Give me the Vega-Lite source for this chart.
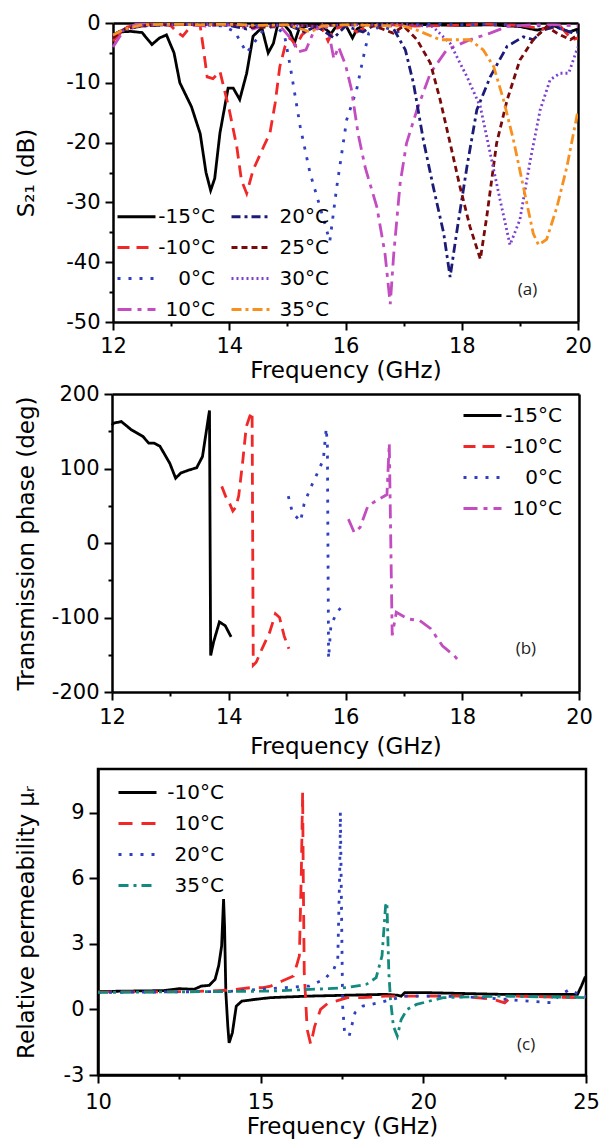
{
"$schema": "https://vega.github.io/schema/vega-lite/v6.json",
"padding": {"left": 13, "top": 12, "right": 5, "bottom": 0},
"config": {
  "font": "DejaVu Sans",
  "view": {"stroke": "black", "strokeWidth": 2.5},
  "axis": {"domainColor": "black", "domainWidth": 2.5, "tickColor": "black", "tickWidth": 2, "labelFontSize": 21, "labelColor": "black", "titleFontSize": 23, "titleFontWeight": "normal", "titleColor": "black", "grid": false, "labelFlush": false, "labelOverlap": false, "labelPadding": 8},
  "legend": {"labelFont": "DejaVu Sans", "labelColor": "black"}
},
"datasets": {
"a": [
{"f":12.0,"v":-2.0,"T":"-15°C"},{"f":12.1,"v":-1.5,"T":"-15°C"},{"f":12.3,"v":-1.4,"T":"-15°C"},{"f":12.5,"v":-1.6,"T":"-15°C"},{"f":12.67,"v":-3.6,"T":"-15°C"},{"f":12.8,"v":-2.5,"T":"-15°C"},{"f":12.92,"v":-2.0,"T":"-15°C"},{"f":13.05,"v":-5,"T":"-15°C"},{"f":13.15,"v":-10,"T":"-15°C"},{"f":13.24,"v":-11.8,"T":"-15°C"},{"f":13.35,"v":-14,"T":"-15°C"},{"f":13.5,"v":-18.5,"T":"-15°C"},{"f":13.6,"v":-25,"T":"-15°C"},{"f":13.68,"v":-28,"T":"-15°C"},{"f":13.75,"v":-26,"T":"-15°C"},{"f":13.84,"v":-18.4,"T":"-15°C"},{"f":13.98,"v":-10.9,"T":"-15°C"},{"f":14.07,"v":-10.9,"T":"-15°C"},{"f":14.18,"v":-12.8,"T":"-15°C"},{"f":14.3,"v":-8.4,"T":"-15°C"},{"f":14.41,"v":-2.2,"T":"-15°C"},{"f":14.56,"v":-0.8,"T":"-15°C"},{"f":14.67,"v":-5,"T":"-15°C"},{"f":14.76,"v":-3.4,"T":"-15°C"},{"f":14.84,"v":0,"T":"-15°C"},{"f":14.95,"v":-0.3,"T":"-15°C"},{"f":15.05,"v":-1.5,"T":"-15°C"},{"f":15.12,"v":-3.4,"T":"-15°C"},{"f":15.2,"v":-1,"T":"-15°C"},{"f":15.4,"v":-0.3,"T":"-15°C"},{"f":15.6,"v":-0.5,"T":"-15°C"},{"f":15.75,"v":-1.8,"T":"-15°C"},{"f":15.85,"v":-0.4,"T":"-15°C"},{"f":16.0,"v":-0.3,"T":"-15°C"},{"f":16.12,"v":-2.5,"T":"-15°C"},{"f":16.2,"v":-1.0,"T":"-15°C"},{"f":16.35,"v":-0.2,"T":"-15°C"},{"f":16.6,"v":-0.3,"T":"-15°C"},{"f":17.0,"v":-0.2,"T":"-15°C"},{"f":17.5,"v":-0.3,"T":"-15°C"},{"f":18.0,"v":-0.4,"T":"-15°C"},{"f":18.5,"v":-0.3,"T":"-15°C"},{"f":19.0,"v":-0.6,"T":"-15°C"},{"f":19.3,"v":-1.2,"T":"-15°C"},{"f":19.6,"v":-0.5,"T":"-15°C"},{"f":19.85,"v":-1.5,"T":"-15°C"},{"f":20.0,"v":-1.0,"T":"-15°C"},
{"f":12.0,"v":-3.0,"T":"-10°C"},{"f":12.1,"v":-2.0,"T":"-10°C"},{"f":12.2,"v":-0.8,"T":"-10°C"},{"f":12.4,"v":-0.3,"T":"-10°C"},{"f":12.6,"v":-0.3,"T":"-10°C"},{"f":12.8,"v":-0.1,"T":"-10°C"},{"f":13.0,"v":-0.5,"T":"-10°C"},{"f":13.1,"v":-1.5,"T":"-10°C"},{"f":13.2,"v":-2.2,"T":"-10°C"},{"f":13.3,"v":-1.0,"T":"-10°C"},{"f":13.4,"v":-0.3,"T":"-10°C"},{"f":13.5,"v":-0.5,"T":"-10°C"},{"f":13.55,"v":-3.9,"T":"-10°C"},{"f":13.62,"v":-9,"T":"-10°C"},{"f":13.72,"v":-9.3,"T":"-10°C"},{"f":13.84,"v":-8.1,"T":"-10°C"},{"f":14.0,"v":-14.5,"T":"-10°C"},{"f":14.13,"v":-20.7,"T":"-10°C"},{"f":14.21,"v":-26.3,"T":"-10°C"},{"f":14.3,"v":-28.5,"T":"-10°C"},{"f":14.41,"v":-24.6,"T":"-10°C"},{"f":14.59,"v":-20.7,"T":"-10°C"},{"f":14.7,"v":-18.4,"T":"-10°C"},{"f":14.79,"v":-13.4,"T":"-10°C"},{"f":14.87,"v":-7.3,"T":"-10°C"},{"f":14.96,"v":-3.9,"T":"-10°C"},{"f":15.05,"v":-2.5,"T":"-10°C"},{"f":15.15,"v":-3.8,"T":"-10°C"},{"f":15.25,"v":-2.0,"T":"-10°C"},{"f":15.4,"v":-0.8,"T":"-10°C"},{"f":15.6,"v":-1.0,"T":"-10°C"},{"f":15.7,"v":-3.0,"T":"-10°C"},{"f":15.8,"v":-1.0,"T":"-10°C"},{"f":16.0,"v":-0.5,"T":"-10°C"},{"f":16.2,"v":-1.5,"T":"-10°C"},{"f":16.4,"v":-0.5,"T":"-10°C"},{"f":16.8,"v":-0.3,"T":"-10°C"},{"f":17.2,"v":-0.5,"T":"-10°C"},{"f":17.8,"v":-0.4,"T":"-10°C"},{"f":18.4,"v":-0.2,"T":"-10°C"},{"f":19.0,"v":-0.4,"T":"-10°C"},{"f":19.4,"v":-1.0,"T":"-10°C"},{"f":19.7,"v":-0.6,"T":"-10°C"},{"f":19.9,"v":-2.8,"T":"-10°C"},{"f":20.0,"v":-2.5,"T":"-10°C"},
{"f":12.0,"v":-2.5,"T":"0°C"},{"f":12.1,"v":-1.5,"T":"0°C"},{"f":12.3,"v":-0.5,"T":"0°C"},{"f":12.6,"v":-0.3,"T":"0°C"},{"f":13.0,"v":-0.2,"T":"0°C"},{"f":13.5,"v":-0.3,"T":"0°C"},{"f":13.9,"v":-0.5,"T":"0°C"},{"f":14.1,"v":-1.5,"T":"0°C"},{"f":14.3,"v":-5,"T":"0°C"},{"f":14.45,"v":-3,"T":"0°C"},{"f":14.6,"v":-1.0,"T":"0°C"},{"f":14.8,"v":-0.5,"T":"0°C"},{"f":14.95,"v":-2,"T":"0°C"},{"f":15.05,"v":-7.3,"T":"0°C"},{"f":15.22,"v":-17.3,"T":"0°C"},{"f":15.39,"v":-25.1,"T":"0°C"},{"f":15.56,"v":-30.7,"T":"0°C"},{"f":15.73,"v":-36.5,"T":"0°C"},{"f":15.85,"v":-27.4,"T":"0°C"},{"f":16.02,"v":-16.2,"T":"0°C"},{"f":16.19,"v":-11.2,"T":"0°C"},{"f":16.31,"v":-5.6,"T":"0°C"},{"f":16.4,"v":-1.7,"T":"0°C"},{"f":16.6,"v":-0.5,"T":"0°C"},{"f":16.9,"v":-1.5,"T":"0°C"},{"f":17.1,"v":-0.3,"T":"0°C"},{"f":17.5,"v":-0.2,"T":"0°C"},{"f":18.0,"v":-0.3,"T":"0°C"},{"f":18.5,"v":-0.2,"T":"0°C"},{"f":19.0,"v":-0.4,"T":"0°C"},{"f":19.5,"v":-0.5,"T":"0°C"},{"f":19.8,"v":-1.2,"T":"0°C"},{"f":20.0,"v":-2.0,"T":"0°C"},
{"f":12.0,"v":-4.0,"T":"10°C"},{"f":12.1,"v":-2.5,"T":"10°C"},{"f":12.2,"v":-1.0,"T":"10°C"},{"f":12.4,"v":-0.2,"T":"10°C"},{"f":12.8,"v":-0.3,"T":"10°C"},{"f":13.2,"v":-0.2,"T":"10°C"},{"f":13.6,"v":-0.5,"T":"10°C"},{"f":14.0,"v":-0.3,"T":"10°C"},{"f":14.4,"v":-1.0,"T":"10°C"},{"f":14.6,"v":-0.5,"T":"10°C"},{"f":14.9,"v":-0.8,"T":"10°C"},{"f":15.05,"v":-2.5,"T":"10°C"},{"f":15.2,"v":-4.8,"T":"10°C"},{"f":15.32,"v":-4.5,"T":"10°C"},{"f":15.45,"v":-1.5,"T":"10°C"},{"f":15.6,"v":-0.3,"T":"10°C"},{"f":15.7,"v":-1.0,"T":"10°C"},{"f":15.8,"v":-6.0,"T":"10°C"},{"f":15.88,"v":-4.0,"T":"10°C"},{"f":16.0,"v":-7.0,"T":"10°C"},{"f":16.1,"v":-11,"T":"10°C"},{"f":16.22,"v":-18.7,"T":"10°C"},{"f":16.34,"v":-24.2,"T":"10°C"},{"f":16.54,"v":-30.8,"T":"10°C"},{"f":16.68,"v":-38.6,"T":"10°C"},{"f":16.77,"v":-47,"T":"10°C"},{"f":16.83,"v":-38.6,"T":"10°C"},{"f":16.94,"v":-26.8,"T":"10°C"},{"f":17.05,"v":-20.1,"T":"10°C"},{"f":17.23,"v":-14.5,"T":"10°C"},{"f":17.46,"v":-8.4,"T":"10°C"},{"f":17.74,"v":-4.5,"T":"10°C"},{"f":18.14,"v":-2.8,"T":"10°C"},{"f":18.49,"v":-1.7,"T":"10°C"},{"f":18.78,"v":-0.6,"T":"10°C"},{"f":19.2,"v":-0.3,"T":"10°C"},{"f":19.6,"v":-0.3,"T":"10°C"},{"f":20.0,"v":-0.5,"T":"10°C"},
{"f":12.0,"v":-2.0,"T":"20°C"},{"f":12.2,"v":-1.0,"T":"20°C"},{"f":12.5,"v":-0.5,"T":"20°C"},{"f":13.0,"v":-0.3,"T":"20°C"},{"f":13.5,"v":-0.2,"T":"20°C"},{"f":14.0,"v":-0.4,"T":"20°C"},{"f":14.3,"v":-1.0,"T":"20°C"},{"f":14.5,"v":-0.5,"T":"20°C"},{"f":15.0,"v":-0.3,"T":"20°C"},{"f":15.3,"v":-1.5,"T":"20°C"},{"f":15.5,"v":-0.5,"T":"20°C"},{"f":15.8,"v":-2.5,"T":"20°C"},{"f":16.0,"v":-0.5,"T":"20°C"},{"f":16.3,"v":-1.5,"T":"20°C"},{"f":16.5,"v":-0.3,"T":"20°C"},{"f":16.8,"v":-0.5,"T":"20°C"},{"f":17.03,"v":-4.5,"T":"20°C"},{"f":17.17,"v":-10.1,"T":"20°C"},{"f":17.34,"v":-19.6,"T":"20°C"},{"f":17.51,"v":-27.4,"T":"20°C"},{"f":17.69,"v":-35.2,"T":"20°C"},{"f":17.8,"v":-42.5,"T":"20°C"},{"f":17.91,"v":-35.2,"T":"20°C"},{"f":18.09,"v":-24,"T":"20°C"},{"f":18.26,"v":-14.5,"T":"20°C"},{"f":18.49,"v":-9,"T":"20°C"},{"f":18.78,"v":-3.9,"T":"20°C"},{"f":19.06,"v":-2.3,"T":"20°C"},{"f":19.23,"v":-2.8,"T":"20°C"},{"f":19.4,"v":-1.2,"T":"20°C"},{"f":19.6,"v":-0.6,"T":"20°C"},{"f":19.92,"v":-1.7,"T":"20°C"},{"f":20.0,"v":-1.5,"T":"20°C"},
{"f":12.0,"v":-2.5,"T":"25°C"},{"f":12.2,"v":-1.0,"T":"25°C"},{"f":12.5,"v":-0.5,"T":"25°C"},{"f":13.0,"v":-0.2,"T":"25°C"},{"f":13.5,"v":-0.3,"T":"25°C"},{"f":14.0,"v":-0.2,"T":"25°C"},{"f":14.5,"v":-0.8,"T":"25°C"},{"f":15.0,"v":-0.3,"T":"25°C"},{"f":15.5,"v":-0.5,"T":"25°C"},{"f":16.0,"v":-0.3,"T":"25°C"},{"f":16.5,"v":-0.5,"T":"25°C"},{"f":16.82,"v":-1.7,"T":"25°C"},{"f":17.0,"v":-0.5,"T":"25°C"},{"f":17.23,"v":-2.8,"T":"25°C"},{"f":17.46,"v":-6.7,"T":"25°C"},{"f":17.63,"v":-12.9,"T":"25°C"},{"f":17.8,"v":-20.1,"T":"25°C"},{"f":17.97,"v":-27.4,"T":"25°C"},{"f":18.14,"v":-34,"T":"25°C"},{"f":18.32,"v":-39.5,"T":"25°C"},{"f":18.43,"v":-32.4,"T":"25°C"},{"f":18.6,"v":-20.1,"T":"25°C"},{"f":18.78,"v":-12.9,"T":"25°C"},{"f":19.0,"v":-6.2,"T":"25°C"},{"f":19.23,"v":-2.8,"T":"25°C"},{"f":19.46,"v":-0.6,"T":"25°C"},{"f":19.64,"v":-1.7,"T":"25°C"},{"f":19.87,"v":-2.8,"T":"25°C"},{"f":20.0,"v":-2.0,"T":"25°C"},
{"f":12.0,"v":-2.0,"T":"30°C"},{"f":12.2,"v":-1.2,"T":"30°C"},{"f":12.5,"v":-0.4,"T":"30°C"},{"f":13.0,"v":-0.3,"T":"30°C"},{"f":13.5,"v":-0.2,"T":"30°C"},{"f":14.0,"v":-0.3,"T":"30°C"},{"f":14.5,"v":-0.5,"T":"30°C"},{"f":15.0,"v":-0.3,"T":"30°C"},{"f":15.5,"v":-0.6,"T":"30°C"},{"f":16.0,"v":-0.3,"T":"30°C"},{"f":16.5,"v":-0.3,"T":"30°C"},{"f":17.0,"v":-0.2,"T":"30°C"},{"f":17.5,"v":-0.6,"T":"30°C"},{"f":17.8,"v":-3.4,"T":"30°C"},{"f":18.09,"v":-9,"T":"30°C"},{"f":18.32,"v":-14,"T":"30°C"},{"f":18.49,"v":-21.8,"T":"30°C"},{"f":18.66,"v":-29.6,"T":"30°C"},{"f":18.83,"v":-37.1,"T":"30°C"},{"f":19.0,"v":-32.9,"T":"30°C"},{"f":19.18,"v":-22.9,"T":"30°C"},{"f":19.35,"v":-14.5,"T":"30°C"},{"f":19.52,"v":-9.5,"T":"30°C"},{"f":19.69,"v":-8.4,"T":"30°C"},{"f":19.84,"v":-8.4,"T":"30°C"},{"f":19.98,"v":-4.5,"T":"30°C"},{"f":20.0,"v":-4.0,"T":"30°C"},
{"f":12.0,"v":-2.0,"T":"35°C"},{"f":12.2,"v":-1.0,"T":"35°C"},{"f":12.5,"v":-0.3,"T":"35°C"},{"f":13.0,"v":-0.2,"T":"35°C"},{"f":13.5,"v":-0.3,"T":"35°C"},{"f":14.0,"v":-0.2,"T":"35°C"},{"f":14.5,"v":-0.4,"T":"35°C"},{"f":15.0,"v":-0.3,"T":"35°C"},{"f":15.4,"v":-1.5,"T":"35°C"},{"f":15.6,"v":-0.5,"T":"35°C"},{"f":16.0,"v":-0.3,"T":"35°C"},{"f":16.5,"v":-0.4,"T":"35°C"},{"f":17.0,"v":-0.5,"T":"35°C"},{"f":17.23,"v":-1.2,"T":"35°C"},{"f":17.63,"v":-2.8,"T":"35°C"},{"f":18.14,"v":-2.8,"T":"35°C"},{"f":18.37,"v":-4.5,"T":"35°C"},{"f":18.55,"v":-7.3,"T":"35°C"},{"f":18.72,"v":-12.9,"T":"35°C"},{"f":18.89,"v":-19.6,"T":"35°C"},{"f":19.06,"v":-27.4,"T":"35°C"},{"f":19.23,"v":-35.2,"T":"35°C"},{"f":19.32,"v":-37.1,"T":"35°C"},{"f":19.46,"v":-36.2,"T":"35°C"},{"f":19.64,"v":-30.7,"T":"35°C"},{"f":19.81,"v":-24,"T":"35°C"},{"f":19.98,"v":-15.6,"T":"35°C"},{"f":20.0,"v":-14.5,"T":"35°C"}
],
"b": [
{"f":12.0,"v":158,"T":"-15°C"},{"f":12.03,"v":161,"T":"-15°C"},{"f":12.16,"v":163,"T":"-15°C"},{"f":12.33,"v":152,"T":"-15°C"},{"f":12.53,"v":143,"T":"-15°C"},{"f":12.63,"v":134,"T":"-15°C"},{"f":12.72,"v":134,"T":"-15°C"},{"f":12.82,"v":130,"T":"-15°C"},{"f":12.99,"v":107,"T":"-15°C"},{"f":13.09,"v":87,"T":"-15°C"},{"f":13.18,"v":94,"T":"-15°C"},{"f":13.32,"v":98,"T":"-15°C"},{"f":13.45,"v":101,"T":"-15°C"},{"f":13.55,"v":116,"T":"-15°C"},{"f":13.61,"v":147,"T":"-15°C"},{"f":13.67,"v":178,"T":"-15°C"},{"f":13.69,"v":-151,"T":"-15°C"},{"f":13.74,"v":-133,"T":"-15°C"},{"f":13.84,"v":-106,"T":"-15°C"},{"f":13.94,"v":-111,"T":"-15°C"},{"f":14.04,"v":-126,"T":"-15°C"},
{"f":13.88,"v":76,"T":"-10°C"},{"f":13.95,"v":62,"T":"-10°C"},{"f":14.01,"v":54,"T":"-10°C"},{"f":14.07,"v":43,"T":"-10°C"},{"f":14.12,"v":48,"T":"-10°C"},{"f":14.17,"v":63,"T":"-10°C"},{"f":14.24,"v":110,"T":"-10°C"},{"f":14.3,"v":156,"T":"-10°C"},{"f":14.36,"v":170,"T":"-10°C"},{"f":14.4,"v":176,"T":"-10°C"},{"f":14.42,"v":-164,"T":"-10°C"},{"f":14.47,"v":-160,"T":"-10°C"},{"f":14.57,"v":-142,"T":"-10°C"},{"f":14.7,"v":-120,"T":"-10°C"},{"f":14.8,"v":-95,"T":"-10°C"},{"f":14.87,"v":-100,"T":"-10°C"},{"f":14.95,"v":-125,"T":"-10°C"},{"f":15.03,"v":-142,"T":"-10°C"},
{"f":15.02,"v":63,"T":"0°C"},{"f":15.09,"v":41,"T":"0°C"},{"f":15.23,"v":29,"T":"0°C"},{"f":15.29,"v":52,"T":"0°C"},{"f":15.39,"v":72,"T":"0°C"},{"f":15.52,"v":94,"T":"0°C"},{"f":15.62,"v":112,"T":"0°C"},{"f":15.67,"v":154,"T":"0°C"},{"f":15.69,"v":130,"T":"0°C"},{"f":15.71,"v":-155,"T":"0°C"},{"f":15.75,"v":-111,"T":"0°C"},{"f":15.85,"v":-93,"T":"0°C"},{"f":16.0,"v":-80,"T":"0°C"},
{"f":16.05,"v":32,"T":"10°C"},{"f":16.15,"v":14,"T":"10°C"},{"f":16.25,"v":21,"T":"10°C"},{"f":16.38,"v":49,"T":"10°C"},{"f":16.51,"v":56,"T":"10°C"},{"f":16.71,"v":65,"T":"10°C"},{"f":16.75,"v":134,"T":"10°C"},{"f":16.8,"v":-124,"T":"10°C"},{"f":16.87,"v":-93,"T":"10°C"},{"f":17.07,"v":-102,"T":"10°C"},{"f":17.27,"v":-104,"T":"10°C"},{"f":17.46,"v":-115,"T":"10°C"},{"f":17.66,"v":-138,"T":"10°C"},{"f":17.86,"v":-151,"T":"10°C"},{"f":17.96,"v":-160,"T":"10°C"}
],
"c": [
{"f":10,"v":0.82,"T":"-10°C"},{"f":11,"v":0.84,"T":"-10°C"},{"f":12,"v":0.86,"T":"-10°C"},{"f":12.5,"v":0.95,"T":"-10°C"},{"f":12.95,"v":0.92,"T":"-10°C"},{"f":13.18,"v":1.07,"T":"-10°C"},{"f":13.42,"v":1.1,"T":"-10°C"},{"f":13.6,"v":1.38,"T":"-10°C"},{"f":13.71,"v":2.0,"T":"-10°C"},{"f":13.8,"v":2.9,"T":"-10°C"},{"f":13.86,"v":5.05,"T":"-10°C"},{"f":13.89,"v":3.8,"T":"-10°C"},{"f":13.93,"v":0.77,"T":"-10°C"},{"f":13.99,"v":-0.77,"T":"-10°C"},{"f":14.03,"v":-1.53,"T":"-10°C"},{"f":14.13,"v":-1.07,"T":"-10°C"},{"f":14.25,"v":0.15,"T":"-10°C"},{"f":14.42,"v":0.38,"T":"-10°C"},{"f":14.83,"v":0.46,"T":"-10°C"},{"f":15.31,"v":0.54,"T":"-10°C"},{"f":16.49,"v":0.61,"T":"-10°C"},{"f":18.84,"v":0.69,"T":"-10°C"},{"f":19.2,"v":0.65,"T":"-10°C"},{"f":19.32,"v":0.61,"T":"-10°C"},{"f":19.43,"v":0.77,"T":"-10°C"},{"f":20.02,"v":0.77,"T":"-10°C"},{"f":22.38,"v":0.69,"T":"-10°C"},{"f":24.74,"v":0.69,"T":"-10°C"},{"f":24.86,"v":1.07,"T":"-10°C"},{"f":24.98,"v":1.5,"T":"-10°C"},
{"f":10,"v":0.8,"T":"10°C"},{"f":12,"v":0.8,"T":"10°C"},{"f":13,"v":0.82,"T":"10°C"},{"f":14,"v":0.88,"T":"10°C"},{"f":14.72,"v":1.0,"T":"10°C"},{"f":15.07,"v":1.0,"T":"10°C"},{"f":15.31,"v":1.07,"T":"10°C"},{"f":15.66,"v":1.3,"T":"10°C"},{"f":16.01,"v":1.53,"T":"10°C"},{"f":16.19,"v":2.45,"T":"10°C"},{"f":16.25,"v":6.28,"T":"10°C"},{"f":16.29,"v":9.95,"T":"10°C"},{"f":16.31,"v":5.97,"T":"10°C"},{"f":16.34,"v":1.68,"T":"10°C"},{"f":16.43,"v":-0.92,"T":"10°C"},{"f":16.54,"v":-1.6,"T":"10°C"},{"f":16.66,"v":-0.77,"T":"10°C"},{"f":16.84,"v":0,"T":"10°C"},{"f":17.08,"v":0.3,"T":"10°C"},{"f":17.31,"v":0.38,"T":"10°C"},{"f":17.67,"v":0.54,"T":"10°C"},{"f":18.14,"v":0.54,"T":"10°C"},{"f":18.84,"v":0.61,"T":"10°C"},{"f":21.2,"v":0.61,"T":"10°C"},{"f":22.15,"v":0.46,"T":"10°C"},{"f":22.5,"v":0.3,"T":"10°C"},{"f":22.73,"v":0.61,"T":"10°C"},{"f":24.74,"v":0.54,"T":"10°C"},{"f":25,"v":0.58,"T":"10°C"},
{"f":10,"v":0.78,"T":"20°C"},{"f":12,"v":0.8,"T":"20°C"},{"f":14,"v":0.82,"T":"20°C"},{"f":15.78,"v":1.0,"T":"20°C"},{"f":16.49,"v":1.07,"T":"20°C"},{"f":16.96,"v":1.38,"T":"20°C"},{"f":17.25,"v":1.84,"T":"20°C"},{"f":17.37,"v":2.3,"T":"20°C"},{"f":17.43,"v":6.28,"T":"20°C"},{"f":17.45,"v":9.04,"T":"20°C"},{"f":17.49,"v":4.0,"T":"20°C"},{"f":17.52,"v":0.15,"T":"20°C"},{"f":17.58,"v":-1.07,"T":"20°C"},{"f":17.72,"v":-1.22,"T":"20°C"},{"f":17.9,"v":-0.15,"T":"20°C"},{"f":18.14,"v":0.15,"T":"20°C"},{"f":18.61,"v":0.3,"T":"20°C"},{"f":19.43,"v":0.61,"T":"20°C"},{"f":20.6,"v":0.61,"T":"20°C"},{"f":21.8,"v":0.54,"T":"20°C"},{"f":23.97,"v":0.3,"T":"20°C"},{"f":24.15,"v":0.61,"T":"20°C"},{"f":24.5,"v":0.92,"T":"20°C"},{"f":24.86,"v":0.61,"T":"20°C"},{"f":25,"v":0.6,"T":"20°C"},
{"f":10,"v":0.78,"T":"35°C"},{"f":12,"v":0.8,"T":"35°C"},{"f":14,"v":0.82,"T":"35°C"},{"f":15.31,"v":0.84,"T":"35°C"},{"f":17.08,"v":0.95,"T":"35°C"},{"f":17.67,"v":1.0,"T":"35°C"},{"f":18.25,"v":1.15,"T":"35°C"},{"f":18.55,"v":1.45,"T":"35°C"},{"f":18.73,"v":2.45,"T":"35°C"},{"f":18.84,"v":4.75,"T":"35°C"},{"f":18.88,"v":4.9,"T":"35°C"},{"f":18.94,"v":1.68,"T":"35°C"},{"f":18.99,"v":0.46,"T":"35°C"},{"f":19.08,"v":-0.77,"T":"35°C"},{"f":19.2,"v":-1.22,"T":"35°C"},{"f":19.32,"v":-0.46,"T":"35°C"},{"f":19.5,"v":0,"T":"35°C"},{"f":19.79,"v":0.23,"T":"35°C"},{"f":20.61,"v":0.54,"T":"35°C"},{"f":22.38,"v":0.61,"T":"35°C"},{"f":25,"v":0.54,"T":"35°C"}
]
},
"columns": 1,
"align": "none",
"spacing": 9,
"resolve": {"scale": {"color": "independent", "strokeDash": "independent"}, "legend": {"color": "independent", "strokeDash": "independent"}},
"concat": [
{
"columns": 1,
"align": "none",
"spacing": 1,
"resolve": {"scale": {"color": "independent", "strokeDash": "independent"}, "legend": {"color": "independent", "strokeDash": "independent"}},
"concat": [
{
"width": 480, "height": 299,
"view": {"stroke": null},
"resolve": {"axis": {"x": "independent", "y": "independent"}},
"layer": [
{
"data": {"name": "a"},
"mark": {"type": "line", "strokeWidth": 2.8, "clip": true},
"encoding": {
"x": {"field": "f", "type": "quantitative", "scale": {"domain": [12, 20], "range": [15, 480], "nice": false, "zero": false},
 "axis": {"title": "Frequency (GHz)", "values": [12,13,14,15,16,17,18,19,20], "labelExpr": "datum.value % 2 == 0 ? toString(datum.value) : ''", "tickSize": {"condition": {"test": "datum.value % 2 != 0", "value": 4}, "value": 8}, "labelPadding": 5, "titlePadding": 3}},
"y": {"field": "v", "type": "quantitative", "scale": {"domain": [-50, 0], "nice": false, "zero": false},
 "axis": {"title": "S₂₁ (dB)", "offset": -15, "values": [-50,-45,-40,-35,-30,-25,-20,-15,-10,-5,0], "labelExpr": "datum.value % 10 == 0 ? toString(datum.value) : ''", "tickSize": {"condition": {"test": "datum.value % 10 != 0", "value": 4}, "value": 8}, "labelPadding": 5, "minExtent": 46, "maxExtent": 46, "titlePadding": 29}},
"color": {"field": "T", "type": "nominal",
 "scale": {"domain": ["-15°C","-10°C","0°C","10°C","20°C","25°C","30°C","35°C"], "range": ["#000000","#f02828","#2f3fbf","#c24cc0","#1c1c78","#7a0a0a","#7d3fd0","#f7901e"]},
 "legend": {"orient": "none", "legendX": 18, "legendY": 173, "columns": 2, "title": null, "symbolType": "stroke", "symbolSize": 1444, "symbolStrokeWidth": 3, "labelFontSize": 20, "labelAlign": "right", "labelOffset": 58, "rowPadding": -12, "columnPadding": 10, "padding": 0}},
"strokeDash": {"field": "T", "type": "nominal",
 "scale": {"domain": ["-15°C","-10°C","0°C","10°C","20°C","25°C","30°C","35°C"], "range": [[1,0],[12,7],[3,8],[14,6,4,6],[9,4,3,4],[6,4],[2,3],[10,4,3,4]]},
 "legend": {"orient": "none", "legendX": 18, "legendY": 173, "columns": 2, "title": null, "symbolType": "stroke", "symbolSize": 1444, "symbolStrokeWidth": 3, "labelFontSize": 20, "labelAlign": "right", "labelOffset": 58, "rowPadding": -12, "columnPadding": 10, "padding": 0}}
}
},
{
"data": {"values": [{"f": 19.13, "v": -44.6, "t": "(a)"}]},
"mark": {"type": "text", "font": "Open Sans", "fontSize": 17, "color": "#222222"},
"encoding": {"x": {"field": "f", "type": "quantitative", "axis": {"orient": "top", "labels": false, "ticks": false, "title": null, "domainWidth": 2.5}}, "y": {"field": "v", "type": "quantitative", "axis": {"orient": "right", "labels": false, "ticks": false, "title": null, "domainWidth": 2.5}}, "text": {"field": "t"}}
}
]
},
{
"width": 481, "height": 298,
"view": {"stroke": null},
"resolve": {"axis": {"x": "independent", "y": "independent"}},
"layer": [
{
"data": {"name": "b"},
"mark": {"type": "line", "strokeWidth": 2.8, "clip": true},
"encoding": {
"x": {"field": "f", "type": "quantitative", "scale": {"domain": [12, 20], "range": [14, 481], "nice": false, "zero": false},
 "axis": {"title": "Frequency (GHz)", "values": [12,13,14,15,16,17,18,19,20], "labelExpr": "datum.value % 2 == 0 ? toString(datum.value) : ''", "tickSize": {"condition": {"test": "datum.value % 2 != 0", "value": 4}, "value": 8}, "labelPadding": 6, "titlePadding": 8}},
"y": {"field": "v", "type": "quantitative", "scale": {"domain": [-200, 200], "nice": false, "zero": false},
 "axis": {"title": "Transmission phase (deg)", "offset": -14, "values": [-200,-150,-100,-50,0,50,100,150,200], "labelExpr": "datum.value % 100 == 0 ? toString(datum.value) : ''", "tickSize": {"condition": {"test": "datum.value % 100 != 0", "value": 4}, "value": 8}, "labelPadding": 5, "minExtent": 60, "maxExtent": 60, "titlePadding": 14}},
"color": {"field": "T", "type": "nominal",
 "scale": {"domain": ["-15°C","-10°C","0°C","10°C"], "range": ["#000000","#f02828","#2f3fbf","#c24cc0"]},
 "legend": {"orient": "none", "legendX": 364, "legendY": 1, "columns": 1, "title": null, "symbolType": "stroke", "symbolSize": 1444, "symbolStrokeWidth": 3, "labelFontSize": 20, "labelAlign": "right", "labelOffset": 59, "rowPadding": -11, "padding": 0}},
"strokeDash": {"field": "T", "type": "nominal",
 "scale": {"domain": ["-15°C","-10°C","0°C","10°C"], "range": [[1,0],[12,7],[3,8],[14,6,4,6]]},
 "legend": {"orient": "none", "legendX": 364, "legendY": 1, "columns": 1, "title": null, "symbolType": "stroke", "symbolSize": 1444, "symbolStrokeWidth": 3, "labelFontSize": 20, "labelAlign": "right", "labelOffset": 59, "rowPadding": -11, "padding": 0}}
}
},
{
"data": {"values": [{"f": 19.09, "v": -142, "t": "(b)"}]},
"mark": {"type": "text", "font": "Open Sans", "fontSize": 17, "color": "#222222"},
"encoding": {"x": {"field": "f", "type": "quantitative", "axis": {"orient": "top", "labels": false, "ticks": false, "title": null, "domainWidth": 2.5}}, "y": {"field": "v", "type": "quantitative", "axis": {"orient": "right", "labels": false, "ticks": false, "title": null, "domainWidth": 2.5}}, "text": {"field": "t"}}
}
]
}
]
},
{
"width": 488, "height": 306,
"layer": [
{
"data": {"name": "c"},
"mark": {"type": "line", "strokeWidth": 2.8, "clip": true},
"encoding": {
"x": {"field": "f", "type": "quantitative", "scale": {"domain": [10, 25], "nice": false, "zero": false},
 "axis": {"title": "Frequency (GHz)", "values": [10,12.5,15,17.5,20,22.5,25], "labelExpr": "datum.value % 5 == 0 ? toString(datum.value) : ''", "tickSize": {"condition": {"test": "datum.value % 5 != 0", "value": 4}, "value": 8}, "titlePadding": 3}},
"y": {"field": "v", "type": "quantitative", "scale": {"domain": [-3, 11], "nice": false, "zero": false},
 "axis": {"title": "Relative permeability  μᵣ", "values": [-3,-1.5,0,1.5,3,4.5,6,7.5,9,10.5], "labelExpr": "datum.value % 3 == 0 ? toString(datum.value) : ''", "tickSize": {"condition": {"test": "datum.value % 3 != 0", "value": 5}, "value": 9}, "labelPadding": 5, "minExtent": 34, "maxExtent": 34, "titlePadding": 26}},
"color": {"field": "T", "type": "nominal",
 "scale": {"domain": ["-10°C","10°C","20°C","35°C"], "range": ["#000000","#f02828","#2f3fbf","#138a80"]},
 "legend": {"orient": "none", "legendX": 19, "legendY": 3, "columns": 1, "title": null, "symbolType": "stroke", "symbolSize": 1444, "symbolStrokeWidth": 3, "labelFontSize": 20, "labelAlign": "right", "labelOffset": 66, "rowPadding": -11, "padding": 0}},
"strokeDash": {"field": "T", "type": "nominal",
 "scale": {"domain": ["-10°C","10°C","20°C","35°C"], "range": [[1,0],[14,9],[3,8],[10,5,3,5]]},
 "legend": {"orient": "none", "legendX": 19, "legendY": 3, "columns": 1, "title": null, "symbolType": "stroke", "symbolSize": 1444, "symbolStrokeWidth": 3, "labelFontSize": 20, "labelAlign": "right", "labelOffset": 66, "rowPadding": -11, "padding": 0}}
}
},
{
"data": {"values": [{"f": 23.16, "v": -1.63, "t": "(c)"}]},
"mark": {"type": "text", "font": "Open Sans", "fontSize": 17, "color": "#222222"},
"encoding": {"x": {"field": "f", "type": "quantitative"}, "y": {"field": "v", "type": "quantitative"}, "text": {"field": "t"}}
}
]
}
]
}
